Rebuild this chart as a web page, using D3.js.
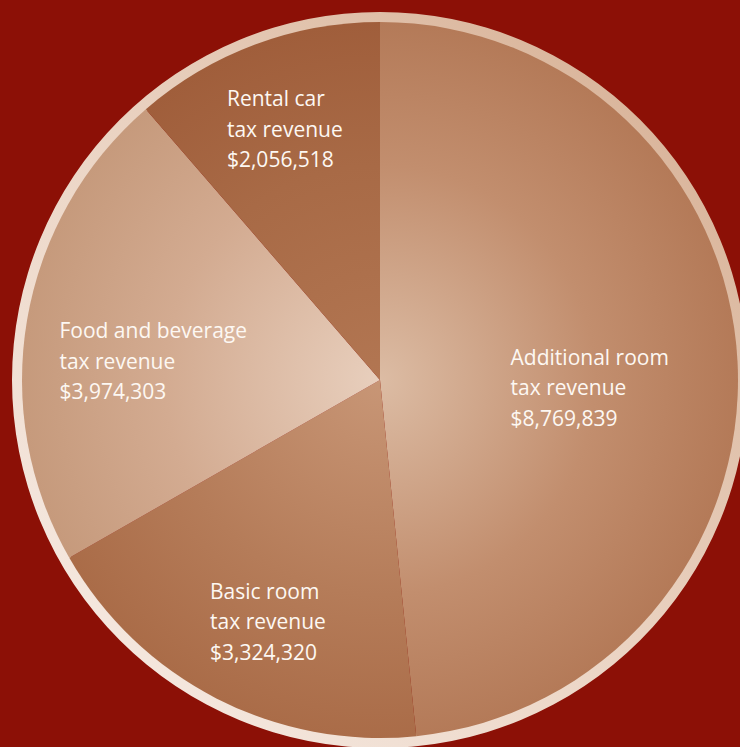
<!DOCTYPE html>
<html>
<head>
<meta charset="utf-8">
<script src="https://cdn.jsdelivr.net/npm/d3@7"></script>
<style>
  body { margin: 0; background: #8c1006; overflow: hidden; }
</style>
</head>
<body>
<div id="chart"></div>
<script>
// data
var categories = ['Additional room', 'Basic room', 'Food and beverage', 'Rental car'];
var values = [8769839, 3324320, 3974303, 2056518];
var labelSuffix = 'tax revenue';

// look
var innerColors = ['#dcbca4', '#c89676', '#e8cfbd', '#b27652'];
var midColors = ['#c28e6e', '#b57c59', '#d3ab91', '#a86a46'];
var outerColors = ['#b47a58', '#aa6c48', '#c69a7c', '#a05e3b'];
var labelRadius = [210, 267, 228, 267];
var labelShift = [[0, 19], [10, 5], [-2, 20], [-2, 0]];

var width = 740, height = 747;
var cx = 380, cy = 380;
var radius = 358;

var svg = d3.select('#chart')
  .append('svg')
  .attr('width', width)
  .attr('height', height);

var defs = svg.append('defs');

// gradient per slice, light in the middle
values.forEach(function(v, i) {
  var grad = defs.append('radialGradient')
    .attr('id', 'slice' + i)
    .attr('gradientUnits', 'userSpaceOnUse')
    .attr('cx', 0).attr('cy', 0).attr('r', radius);
  grad.append('stop').attr('offset', '0%').attr('stop-color', innerColors[i]);
  grad.append('stop').attr('offset', '60%').attr('stop-color', midColors[i]);
  grad.append('stop').attr('offset', '100%').attr('stop-color', outerColors[i]);
});

// ring gradient
var ringGrad = defs.append('linearGradient')
  .attr('id', 'ring')
  .attr('x1', '0%').attr('y1', '100%')
  .attr('x2', '100%').attr('y2', '0%');
ringGrad.append('stop').attr('offset', '0%').attr('stop-color', '#f8eee8');
ringGrad.append('stop').attr('offset', '45%').attr('stop-color', '#ecd6c6');
ringGrad.append('stop').attr('offset', '100%').attr('stop-color', '#d4ab8e');

var g = svg.append('g')
  .attr('transform', 'translate(' + cx + ',' + cy + ')');

// outer ring
g.append('path')
  .attr('d', d3.arc().innerRadius(radius - 2).outerRadius(radius + 10)({startAngle: 0, endAngle: 2 * Math.PI}))
  .attr('fill', 'url(#ring)');

var pie = d3.pie()
  .value(function(d) { return d; })
  .sort(null);

var arc = d3.arc()
  .innerRadius(0)
  .outerRadius(radius);

var arcs = pie(values);

g.selectAll('path.slice')
  .data(arcs)
  .enter()
  .append('path')
  .attr('class', 'slice')
  .attr('d', arc)
  .attr('fill', function(d, i) { return 'url(#slice' + i + ')'; });

// labels
var fmt = d3.format('$,');

arcs.forEach(function(d, i) {
  var c = d3.arc().innerRadius(labelRadius[i]).outerRadius(labelRadius[i]).centroid(d);
  var lines = [categories[i], labelSuffix, fmt(values[i])];

  var t = g.append('text')
    .attr('fill', '#fdf8f3')
    .style('font-family', '"Open Sans", Lato, sans-serif')
    .style('font-size', '21px')
    .style('font-weight', 400);

  lines.forEach(function(line, j) {
    t.append('tspan')
      .attr('x', 0)
      .attr('y', (j - 1) * 30.5 + 7)
      .text(line);
  });

  var bb = t.node().getBBox();
  var x = c[0] + labelShift[i][0] - bb.width / 2;
  var y = c[1] + labelShift[i][1];
  t.attr('transform', 'translate(' + x + ',' + y + ')');
});
</script>
</body>
</html>
